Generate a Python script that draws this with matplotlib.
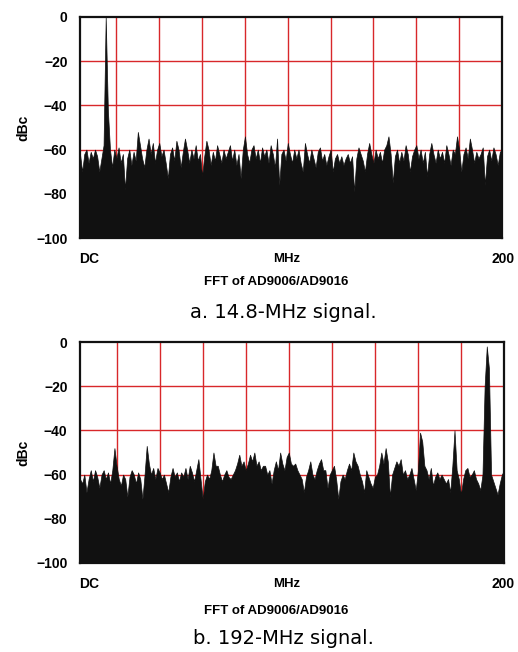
import numpy as np
import matplotlib
matplotlib.use("Agg")
import matplotlib.pyplot as plt

# ---------------- data (dBc, one value per MHz bin, 3..200 MHz) ----------------
spec_a = [
    -62, -70, -62, -60, -66, -61, -64, -60, -63, -70,
    -64, -58, 0, -42, -60, -68, -60, -64, -59, -66,
    -62, -78, -64, -60, -67, -61, -65, -52, -58, -64,
    -68, -60, -55, -62, -57, -66, -60, -57, -63, -60,
    -66, -73, -62, -59, -65, -56, -60, -68, -61, -55,
    -60, -66, -60, -64, -58, -65, -62, -72, -63, -56,
    -60, -67, -61, -65, -58, -62, -66, -60, -64, -61,
    -58, -65, -60, -67, -62, -73, -60, -54, -62, -66,
    -60, -58, -64, -60, -66, -59, -63, -60, -66, -58,
    -62, -68, -55, -76, -62, -60, -65, -57, -62, -66,
    -60, -64, -60, -66, -70, -57, -62, -66, -60, -64,
    -68, -61, -59, -65, -62, -67, -63, -60, -70, -64,
    -62, -66, -63, -67, -64, -62, -66, -63, -79, -64,
    -59, -62, -65, -70, -62, -57, -62, -66, -60, -64,
    -61, -66, -60, -58, -54, -62, -75, -63, -60, -66,
    -61, -65, -58, -62, -70, -63, -60, -58, -64, -60,
    -66, -61, -72, -62, -57, -62, -66, -60, -64, -61,
    -66, -58, -62, -67, -60, -62, -54, -60, -70, -62,
    -59, -64, -55, -60, -66, -61, -64, -62, -59, -76,
    -63, -60, -65, -59, -62, -67, -61, -60,
]

spec_b = [
    -62, -64, -60, -68, -62, -58, -63, -58, -61, -66,
    -60, -58, -62, -59, -64, -58, -48, -56, -62, -65,
    -60, -62, -70, -61, -58, -60, -64, -59, -62, -71,
    -60, -47, -55, -60, -57, -62, -57, -59, -62, -60,
    -64, -68, -61, -57, -61, -59, -63, -59, -61, -57,
    -62, -56, -59, -63, -58, -53, -62, -71, -63, -60,
    -62, -58, -50, -56, -56, -60, -63, -60, -58, -61,
    -62, -60, -58, -55, -51, -56, -54, -58, -55, -51,
    -54, -50, -56, -54, -58, -56, -56, -60, -58, -64,
    -58, -54, -58, -50, -55, -58, -52, -50, -55, -56,
    -55, -58, -60, -62, -68, -61, -58, -54, -60, -62,
    -58, -55, -53, -58, -58, -66, -60, -58, -56, -62,
    -71, -63, -60, -62, -58, -55, -58, -50, -54, -56,
    -60, -63, -68, -58, -61, -64, -66, -61, -60, -56,
    -50, -55, -48, -54, -70, -60, -57, -54, -56, -53,
    -60, -58, -62, -60, -57, -62, -67, -58, -41, -45,
    -56, -58, -62, -57, -65, -61, -59, -62, -60, -62,
    -64, -62, -68, -56, -40, -58, -62, -69, -62, -58,
    -57, -61, -60, -58, -62, -64, -67, -60, -20, -2,
    -12, -60, -63, -66, -69, -64, -60, -58,
]

f_start, f_stop = 3, 200
freq_a = np.linspace(f_start, f_stop, len(spec_a))
freq_b = np.linspace(f_start, f_stop, len(spec_b))

y_ticks = [0, -20, -40, -60, -80, -100]
y_tick_labels = ["0", "\u221220", "\u221240", "\u221260", "\u221280", "\u2212100"]
v_grid = [20, 40, 60, 80, 100, 120, 140, 160, 180]
h_grid = [-20, -40, -60]

ylabel = "dBc"
xlabel = "MHz"
fft_title = "FFT of AD9006/AD9016"
captions = ["a. 14.8-MHz signal.", "b. 192-MHz signal."]

# ---------------- figure ----------------
W, H = 518, 652
fig = plt.figure(figsize=(W / 100, H / 100), dpi=100)
fig.patch.set_facecolor("white")

RED = "#d8282a"
BLACK = "#111111"
bold_font = ["Liberation Sans", "DejaVu Sans"]


def px_ax(left, top, right, bottom):
    return [left / W, 1 - bottom / H, (right - left) / W, (bottom - top) / H]


def draw_panel(rect, freq, spec, label_ys, caption):
    ax = fig.add_axes(rect)
    ax.set_xlim(f_start, f_stop)
    ax.set_ylim(-100, 0)
    for x in v_grid:
        ax.axvline(x, color=RED, lw=1.0, zorder=1)
    for y in h_grid:
        ax.axhline(y, color=RED, lw=1.0, zorder=1)
    ax.fill_between(freq, -100, spec, color=BLACK, lw=0.5,
                    edgecolor=BLACK, zorder=2)
    ax.set_xticks([])
    ax.set_yticks(y_ticks)
    ax.set_yticklabels(y_tick_labels, fontweight="bold", fontsize=10, family=bold_font)
    ax.tick_params(axis="y", length=0, pad=9)
    for s in ax.spines.values():
        s.set_color(BLACK)
        s.set_linewidth(1.6)
    ax.set_ylabel(ylabel, fontweight="bold", fontsize=10, family=bold_font, labelpad=4)

    y_dc, y_fft, y_cap = label_ys
    fig.text(89 / W, 1 - y_dc / H, "DC", ha="center", va="center",
             fontweight="bold", fontsize=10, family=bold_font)
    fig.text(287 / W, 1 - y_dc / H, xlabel, ha="center", va="center",
             fontweight="bold", fontsize=9.5, family=bold_font)
    fig.text(503 / W, 1 - y_dc / H, "200", ha="center", va="center",
             fontweight="bold", fontsize=10, family=bold_font)
    fig.text(276 / W, 1 - y_fft / H, fft_title, ha="center", va="center",
             fontweight="bold", fontsize=9.5, family=bold_font)
    fig.text(283 / W, 1 - y_cap / H, caption, ha="center", va="center",
             fontsize=14, family=["DejaVu Sans"])
    return ax


draw_panel(px_ax(80, 17, 502, 238), freq_a, spec_a, (259, 282, 313), captions[0])
draw_panel(px_ax(80, 342, 504, 563), freq_b, spec_b, (584, 611, 639), captions[1])

fig.savefig("out.png", dpi=100, facecolor="white")
